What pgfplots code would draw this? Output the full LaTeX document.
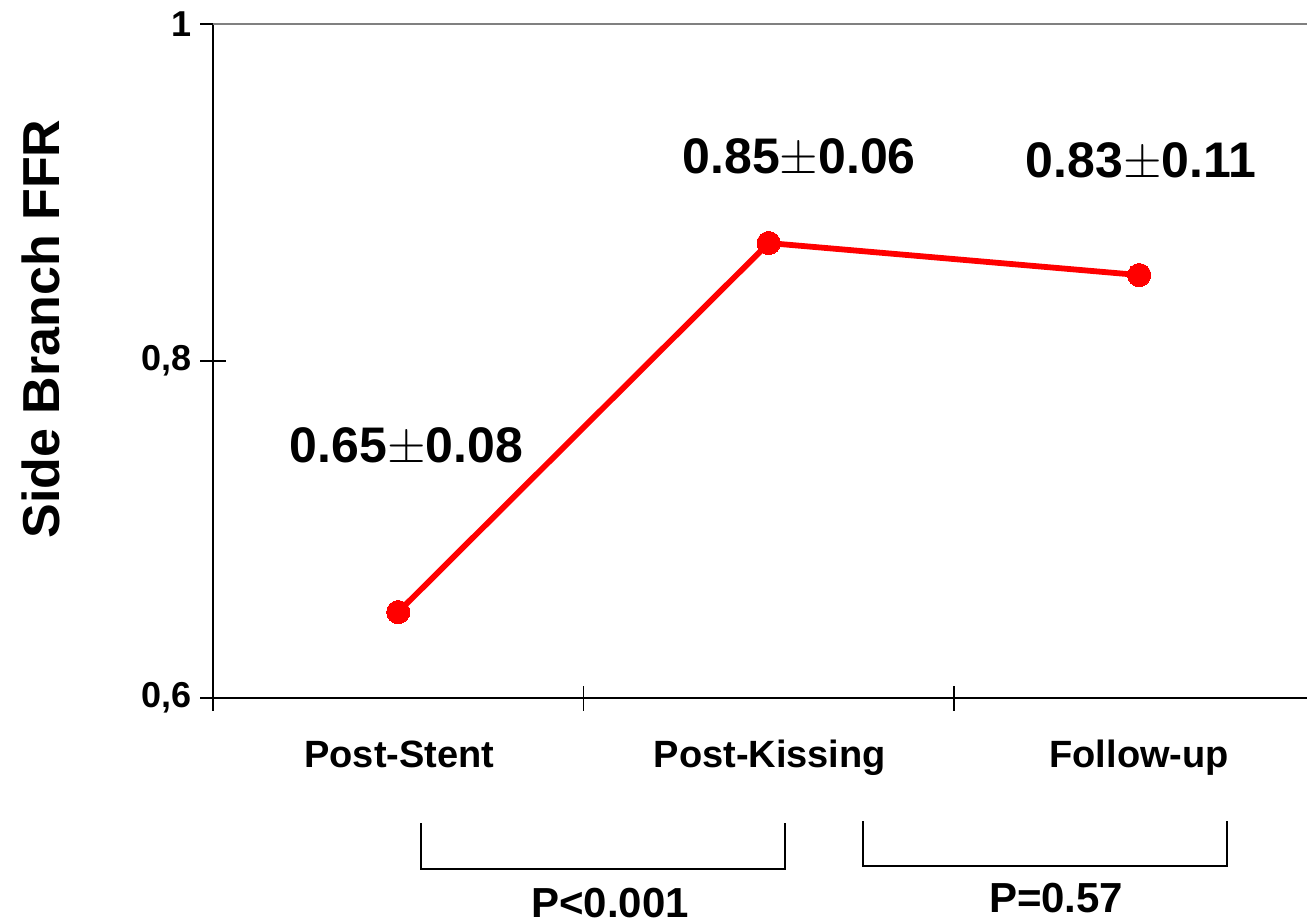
\documentclass[border=0pt]{standalone}
\usepackage{pgfplots}
\pgfplotsset{compat=1.18}
\usepackage{fontspec}
\setmainfont{Liberation Sans}
\definecolor{ffrred}{RGB}{255,0,0}
\newcommand{\fs}[1]{\fontsize{#1bp}{#1bp}\selectfont\bfseries}
\begin{document}
\begin{tikzpicture}
\begin{axis}[
  at={(0,0)}, anchor=south west,
  scale only axis,
  width=547bp, height=337bp,
  xmin=-0.5, xmax=2.453,
  ymin=0.6, ymax=1,
  clip=false,
  axis x line=bottom, axis y line=left,
  axis line style={-, line width=0.9bp, black},
  xtick={-0.5,0.5,1.5}, xticklabels={},
  ytick={0.6,0.8,1}, yticklabels={{0,6},{0,8},{1}},
  tick align=center,
  major tick length=12.5bp,
  tick style={line width=0.9bp, black},
  yticklabel style={font=\fs{18}, anchor=east, xshift=-1bp},
]
\draw[gray, line width=0.7bp] (axis cs:-0.5,1) -- (axis cs:2.453,1);
\addplot[ffrred, line width=2.9bp, mark=*, mark size=5.8bp, mark options={fill=ffrred, draw=ffrred, line width=0pt}]
  coordinates {(0,0.651) (1,0.870) (2,0.851)};
% value annotations
\node[font=\fs{25}] at (axis cs:0.022,0.749) {0.65$\pm$0.08};
\node[font=\fs{25}] at (axis cs:1.082,0.9205) {0.85$\pm$0.06};
\node[font=\fs{25}] at (axis cs:2.005,0.918) {0.83$\pm$0.11};
% category labels
\node[font=\fs{19}, anchor=base] at (axis cs:0.003,0.5585) {Post-Stent};
\node[font=\fs{19}, anchor=base] at (axis cs:1.003,0.5585) {Post-Kissing};
\node[font=\fs{19}, anchor=base] at (axis cs:2.0,0.5585) {Follow-up};
% brackets
\draw[line width=1bp] (axis cs:0.062,0.5258) -- (axis cs:0.062,0.4985) -- (axis cs:1.045,0.4985) -- (axis cs:1.045,0.5258);
\draw[line width=1bp] (axis cs:1.255,0.527) -- (axis cs:1.255,0.5003) -- (axis cs:2.2375,0.5003) -- (axis cs:2.2375,0.527);
\node[font=\fs{21}, anchor=base] at (axis cs:0.572,0.47) {P<0.001};
\node[font=\fs{21}, anchor=base] at (axis cs:1.776,0.473) {P=0.57};
% y label
\node[font=\fs{26}, rotate=90] at (rel axis cs:-0.157,0.5475) {Side Branch FFR};
\end{axis}
\pgfresetboundingbox
\path[use as bounding box] (-106.5bp,-111.5bp) rectangle (547bp,349bp);
\end{tikzpicture}
\end{document}
